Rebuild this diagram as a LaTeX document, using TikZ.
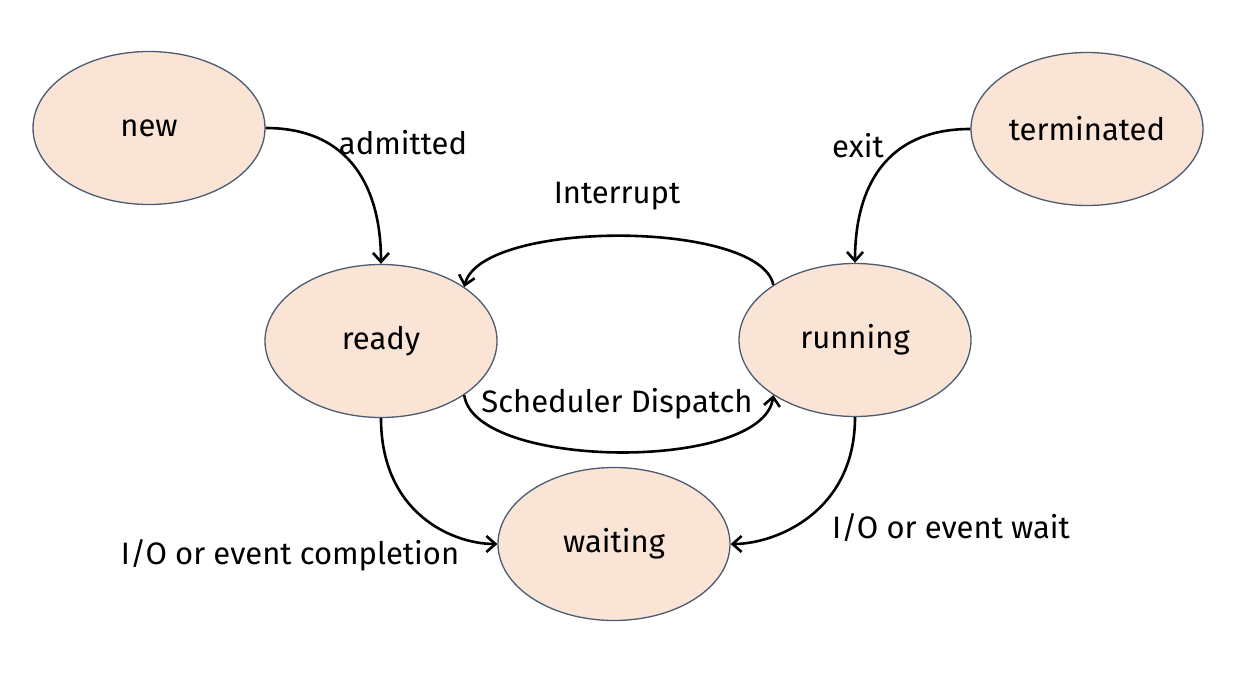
\documentclass[tikz,border=0pt]{standalone}
\usepackage{fontspec}
\setmainfont{Fira Sans}
\usetikzlibrary{shapes.geometric,arrows.meta,calc}
\definecolor{statefill}{HTML}{FAE4D6}
\definecolor{statedraw}{HTML}{4B5B72}
\tikzset{
  state/.style={ellipse, draw=statedraw, fill=statefill, line width=1.3pt,
    minimum width=232pt, minimum height=153pt, inner sep=0pt,
    font=\fontsize{31}{36}\selectfont},
  edge/.style={line width=2.6pt, -{Straight Barb[length=9pt,width=16pt,line width=2.6pt]}},
  lbl/.style={font=\fontsize{31}{36}\selectfont, inner sep=0pt}
}
\begin{document}
\begin{tikzpicture}[x=1pt,y=-1pt]
\useasboundingbox (0,0) rectangle (1245,688);
\node[state] (new) at (149,128) {new};
\node[state] (term) at (1087,129) {terminated};
\node[state] (ready) at (381,341) {ready};
\node[state] (run) at (855,340) {running};
\node[state] (wait) at (614,544) {waiting};

\draw[edge] (new.east) .. controls ($(new.east)+(85,0)$) and ($(ready.north)+(0,-75)$) .. (ready.north);
\draw[edge] (term.west) .. controls ($(term.west)+(-85,0)$) and ($(run.north)+(0,-75)$) .. (run.north);
\draw[edge] (run.146) .. controls ($(run.146)+(-13,-65)$) and ($(ready.33)+(17,-68)$) .. (ready.33);
\draw[edge] (ready.-33) .. controls ($(ready.-33)+(10,75)$) and ($(run.214)+(-10,77)$) .. (run.214);
\draw[edge] (ready.south) .. controls ($(ready.south)+(0,95)$) and ($(wait.west)+(-45,0)$) .. (wait.west);
\draw[edge] (run.south) .. controls ($(run.south)+(0,95)$) and ($(wait.east)+(45,0)$) .. (wait.east);

\node[lbl] (ladm) at (403,143) {admitted};
\node[lbl] (lexit) at (858,146) {exit};
\node[lbl] (lint) at (617,196) {Interrupt};
\node[lbl] (lsch) at (617,404) {Scheduler Dispatch};
\node[lbl] (lcomp) at (290,555) {I/O or event completion};
\node[lbl] (lwait) at (951,528) {I/O or event wait};
\end{tikzpicture}
\end{document}
